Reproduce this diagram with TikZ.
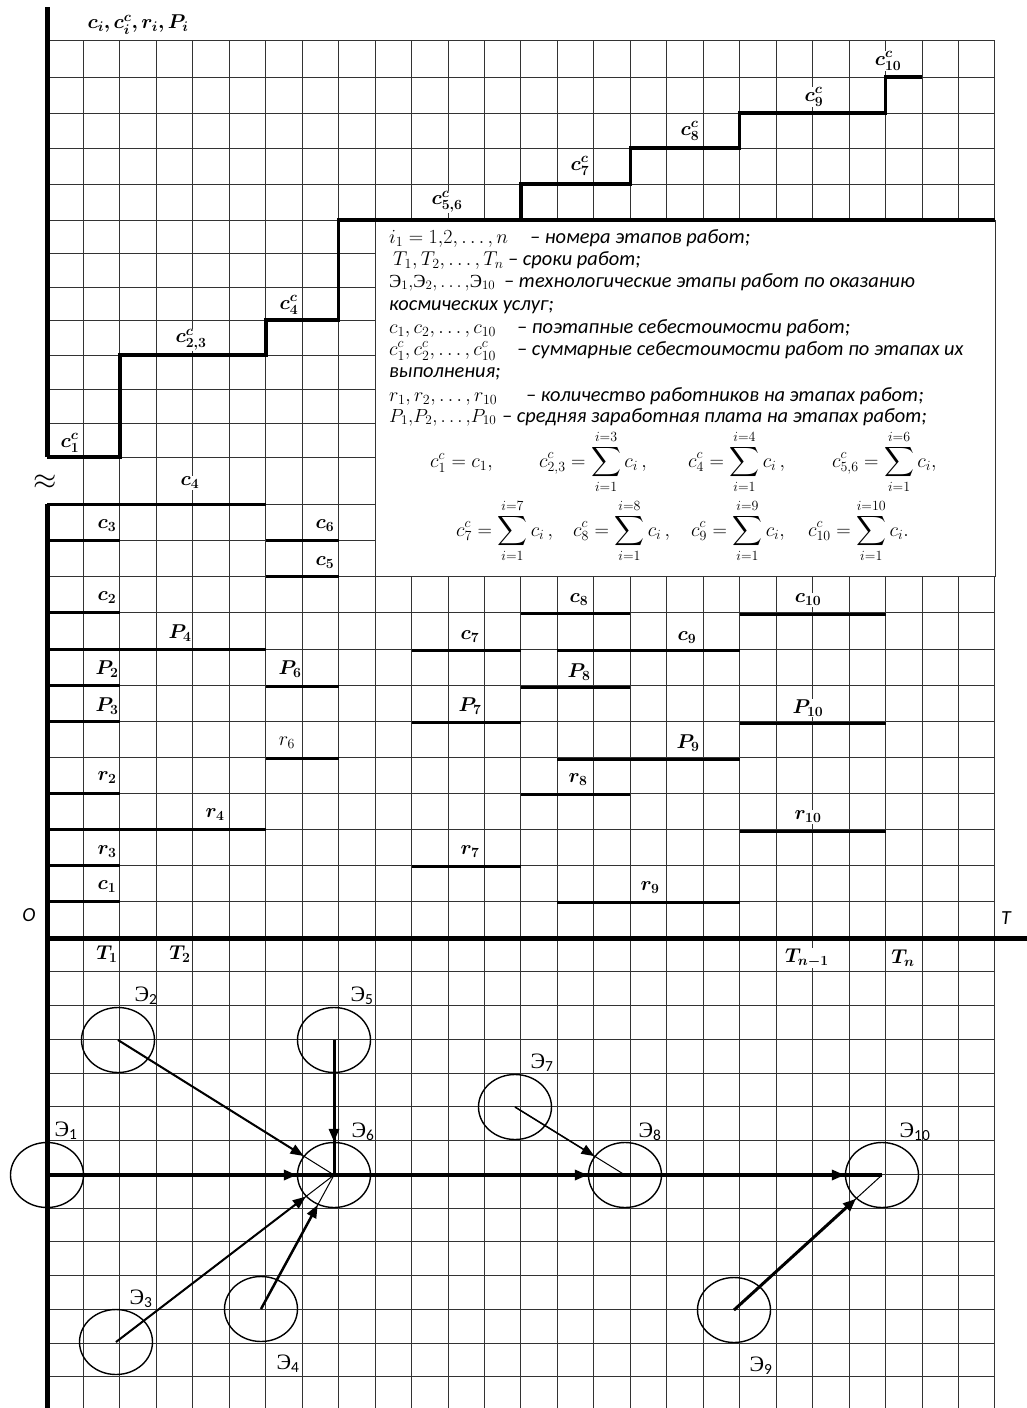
\RequirePackage{fix-cm}
\documentclass[tikz,border=0pt]{standalone}
\usepackage{amsmath}
\usepackage{bm}
\usepackage{fontspec}
\setmainfont{Carlito}
\newfontfamily\efont{Liberation Serif}
\usetikzlibrary{arrows.meta,shapes.geometric}
\newcommand\Em{\mathord{\hbox{\efont\upshape Э}}}
\newcommand\Elab[1]{{\efont\upshape Э}$_{\mathrm{#1}}$}
\newcommand\labfont{\fontsize{20}{20}\selectfont}
\newcommand\lgfont{\fontsize{20.4}{22}\selectfont\itshape}
\newcommand\lgmfont{\fontsize{20}{22}\selectfont}
\newcommand\fmfont{\fontsize{20}{22}\selectfont}
\tikzset{
  gridl/.style={line width=1pt, draw=black!80},
  thk/.style={line width=3pt},
  axisl/.style={line width=5pt},
  stair/.style={line width=3.5pt, line join=miter},
  lab/.style={font=\labfont, fill=white, inner sep=0.6pt},
  elab/.style={font=\fontsize{22}{22}\selectfont, inner sep=0pt},
  stage/.style={ellipse, draw, line width=1.4pt, minimum width=73pt, minimum height=65pt, inner sep=0pt},
  arr/.style={-{Triangle[length=13pt,width=10pt]}},
  lg/.style={anchor=base west, inner sep=0pt, font=\lgfont},
  lgm/.style={anchor=base west, inner sep=0pt, font=\lgmfont},
  fm/.style={anchor=base west, inner sep=0pt, font=\fmfont},
  axlab/.style={font=\fontsize{20}{20}\selectfont\itshape, inner sep=0pt},
}
\begin{document}
\begin{tikzpicture}[x=1pt,y=-1pt]
\useasboundingbox (0,0) rectangle (1027,1408);
\fill[white] (0,0) rectangle (1027,1408);
% grid
\foreach \k in {1,...,26} \draw[gridl] ({47+36.46*\k},40) -- ({47+36.46*\k},1408);
\foreach \y in {40,77,113,148,184,220,253,287,320,355,389,423,457,504,540.5,576.7,612.5,649,685,721,757,793,829,865,901}
  \draw[gridl] (47,\y) -- (995,\y);
\foreach \k in {1,...,14} \draw[gridl] (47,{938+33.75*\k}) -- (995,{938+33.75*\k});
% legend box
\fill[white] (375,220) rectangle (995,576.7);
\draw[gridl] (375,220) rectangle (995,576.7);
% axes
\draw[axisl] (47,7) -- (47,457);
\draw[axisl] (47,504) -- (47,1408);
\draw[axisl] (47,938) -- (1027,938);
% staircase
\draw[stair] (47,457) -- (120,457) -- (120,355) -- (265.8,355) -- (265.8,320) -- (338.7,320) -- (338.7,220) -- (995,220);
\draw[stair] (521,220) -- (521,184) -- (630.3,184) -- (630.3,148) -- (739.7,148) -- (739.7,113) -- (885.6,113) -- (885.6,77) -- (922,77);
% segments
\draw[thk] (47,504) -- (265.8,504);
\draw[thk] (47,540.5) -- (120,540.5);
\draw[thk] (265.8,540.5) -- (338.7,540.5);
\draw[thk] (265.8,576.7) -- (338.7,576.7);
\draw[thk] (47,612.5) -- (120,612.5);
\draw[thk] (521,613.5) -- (630.3,613.5);
\draw[thk] (739.7,614) -- (885.6,614);
\draw[thk] (47,649) -- (265.8,649);
\draw[thk] (411.6,650) -- (521,650);
\draw[thk] (557.4,650.5) -- (739.7,650.5);
\draw[thk] (47,685) -- (120,685);
\draw[thk] (265.8,686) -- (338.7,686);
\draw[thk] (521,687) -- (630.3,687);
\draw[thk] (47,721) -- (120,721);
\draw[thk] (411.6,722) -- (521,722);
\draw[thk] (739.7,723.5) -- (885.6,723.5);
\draw[thk] (265.8,758) -- (338.7,758);
\draw[thk] (557.4,759) -- (739.7,759);
\draw[thk] (47,793) -- (120,793);
\draw[thk] (521,794.5) -- (630.3,794.5);
\draw[thk] (47,829) -- (265.8,829);
\draw[thk] (739.7,831.5) -- (885.6,831.5);
\draw[thk] (47,865) -- (120,865);
\draw[thk] (411.6,866) -- (521,866);
\draw[thk] (47,901) -- (120,901);
\draw[thk] (557.4,902.5) -- (739.7,902.5);
% top label & upper labels
\node[lab] (ltop) at (138,25) {$\bm{c_i, c^c_i, r_i, P_i}$};
\node[lab] (lcc1) at (70,443) {$\bm{c^c_1}$};
\node[lab] (lcc23) at (191,340) {$\bm{c^c_{2,3}}$};
\node[lab] (lcc4) at (289,305) {$\bm{c^c_4}$};
\node[lab] (lcc56) at (447,202) {$\bm{c^c_{5,6}}$};
\node[lab] (lcc7) at (580,166) {$\bm{c^c_7}$};
\node[lab] (lcc8) at (690,131) {$\bm{c^c_8}$};
\node[lab] (lcc9) at (814,97) {$\bm{c^c_9}$};
\node[lab] (lcc10) at (888,61) {$\bm{c^c_{10}}$};
\node[font=\fontsize{30}{30}\selectfont, inner sep=0pt] (appr) at (45,482) {$\approx$};
% middle labels
\node[lab] (lc4) at (190,483) {$\bm{c_4}$};
\node[lab] (lc3) at (107,526) {$\bm{c_3}$};
\node[lab] (lc6) at (325,526) {$\bm{c_6}$};
\node[lab] (lc5) at (325,563) {$\bm{c_5}$};
\node[lab] (lc2) at (107,598) {$\bm{c_2}$};
\node[lab] (lp4) at (180,633) {$\bm{P_4}$};
\node[lab] (lc7) at (470,637) {$\bm{c_7}$};
\node[lab] (lp2) at (107,669) {$\bm{P_2}$};
\node[lab] (lp6) at (290,669) {$\bm{P_6}$};
\node[lab] (lp3) at (107,706) {$\bm{P_3}$};
\node[lab] (lp7) at (470,706) {$\bm{P_7}$};
\node[lab] (lr6) at (287,743) {$r_6$};
\node[lab] (lr2) at (107,778) {$\bm{r_2}$};
\node[lab] (lr4) at (215,815) {$\bm{r_4}$};
\node[lab] (lr3) at (107,852) {$\bm{r_3}$};
\node[lab] (lr7) at (470,852) {$\bm{r_7}$};
\node[lab] (lc1) at (107,887) {$\bm{c_1}$};
\node[lab] (lc8) at (579,600) {$\bm{c_8}$};
\node[lab] (lc10) at (808,600) {$\bm{c_{10}}$};
\node[lab] (lc9) at (687,638) {$\bm{c_9}$};
\node[lab] (lp8) at (579,672) {$\bm{P_8}$};
\node[lab] (lp10) at (808,708) {$\bm{P_{10}}$};
\node[lab] (lp9) at (688,743) {$\bm{P_9}$};
\node[lab] (lr8) at (578,780) {$\bm{r_8}$};
\node[lab] (lr10) at (808,817) {$\bm{r_{10}}$};
\node[lab] (lr9) at (650,888) {$\bm{r_9}$};
\node[lab] (lt1) at (107,954) {$\bm{T_1}$};
\node[lab] (lt2) at (180,954) {$\bm{T_2}$};
\node[lab] (ltn1) at (807,958) {$\bm{T_{n-1}}$};
\node[lab] (ltn) at (903,958) {$\bm{T_n}$};
\node[axlab] (lo) at (29,915) {O};
\node[axlab] (lT) at (1006,918) {T};
% legend text
\node[lgm] (g1m) at (389,243) {$i_1 = 1{,}2, \dots, n$};
\node[lg] (g1t) at (530,243) {– номера этапов работ;};
\node[lgm] (g2m) at (393,265) {$T_1, T_2, \dots, T_n$};
\node[lg] (g2t) at (508,265) {– сроки работ;};
\node[lgm, font=\fontsize{18.5}{22}\selectfont] (g3m) at (389,287) {$\Em_1{,}\Em_2{,}\dots{,}\Em_{10}$};
\node[lg] (g3t) at (504,287) {– технологические этапы работ по оказанию};
\node[lg] (g4t) at (389,310) {космических услуг;};
\node[lgm] (g5m) at (389,333) {$c_1, c_2, \dots, c_{10}$};
\node[lg] (g5t) at (517,333) {– поэтапные себестоимости работ;};
\node[lgm] (g6m) at (389,355) {$c^c_1, c^c_2, \dots, c^c_{10}$};
\node[lg] (g6t) at (517,355) {– суммарные себестоимости работ по этапах их};
\node[lg] (g7t) at (389,377) {выполнения;};
\node[lgm] (g8m) at (389,401) {$r_1, r_2, \dots, r_{10}$};
\node[lg] (g8t) at (526,401) {– количество работников на этапах работ;};
\node[lgm, font=\fontsize{19}{22}\selectfont] (g9m) at (389,422) {$P_1{,}P_2{,}\dots{,}P_{10}$};
\node[lg] (g9t) at (502,422) {– средняя заработная плата на этапах работ;};
% formulas
\node[fm] (f1) at (430,467) {$c^c_1 = c_1,$};
\node[fm] (f2) at (539,467) {$\displaystyle c^c_{2,3} = \sum_{i=1}^{i=3} c_i\,,$};
\node[fm] (f3) at (688,467) {$\displaystyle c^c_4 = \sum_{i=1}^{i=4} c_i\,,$};
\node[fm] (f4) at (832,467) {$\displaystyle c^c_{5,6} = \sum_{i=1}^{i=6} c_i,$};
\node[fm] (f5) at (456,536) {$\displaystyle c^c_7 = \sum_{i=1}^{i=7} c_i\,,$};
\node[fm] (f6) at (573,536) {$\displaystyle c^c_8 = \sum_{i=1}^{i=8} c_i\,,$};
\node[fm] (f7) at (691,536) {$\displaystyle c^c_9 = \sum_{i=1}^{i=9} c_i,$};
\node[fm] (f8) at (808,536) {$\displaystyle c^c_{10} = \sum_{i=1}^{i=10} c_i.$};
% process stages
\node[stage] (e1) at (47,1175) {};
\node[stage] (e2) at (118,1040) {};
\node[stage] (e3) at (116,1342) {};
\node[stage] (e4) at (261,1309) {};
\node[stage] (e5) at (334,1040) {};
\node[stage] (e6) at (334,1175) {};
\node[stage] (e7) at (515,1107) {};
\node[stage] (e8) at (625,1175) {};
\node[stage] (e9) at (734,1310) {};
\node[stage] (e10) at (882,1175) {};
\node[elab] (t1) at (66,1131) {\Elab{1}};
\node[elab] (t2) at (146,996) {\Elab{2}};
\node[elab] (t3) at (141,1299) {\Elab{3}};
\node[elab] (t4) at (288,1364) {\Elab{4}};
\node[elab] (t5) at (362,996) {\Elab{5}};
\node[elab] (t6) at (363,1132) {\Elab{6}};
\node[elab] (t7) at (542,1063) {\Elab{7}};
\node[elab] (t8) at (650,1132) {\Elab{8}};
\node[elab] (t9) at (761,1366) {\Elab{9}};
\node[elab] (t10) at (915,1132) {\Elab{10}};
% connectors
\draw[line width=4pt] (e1.center) -- (e10.center);
\draw[line width=4pt, arr] (e1.center) -- (e6);
\draw[line width=4pt, arr] (e6.center) -- (e8);
\draw[line width=4pt, arr] (e8.center) -- (e10);
\draw[line width=3pt] (e5.center) -- (e6.center);
\draw[line width=3pt, arr] (e5.center) -- (e6);
\draw[line width=1pt] (e2.center) -- (e6.center);
\draw[line width=2pt, arr] (e2.center) -- (e6);
\draw[line width=1pt] (e3.center) -- (e6.center);
\draw[line width=2pt, arr] (e3.center) -- (e6);
\draw[line width=1pt] (e4.center) -- (e6.center);
\draw[line width=2.5pt, arr] (e4.center) -- (e6);
\draw[line width=1pt] (e7.center) -- (e8.center);
\draw[line width=1.5pt, arr] (e7.center) -- (e8);
\draw[line width=1pt] (e9.center) -- (e10.center);
\draw[line width=3pt, arr] (e9.center) -- (e10);
\end{tikzpicture}
\end{document}
